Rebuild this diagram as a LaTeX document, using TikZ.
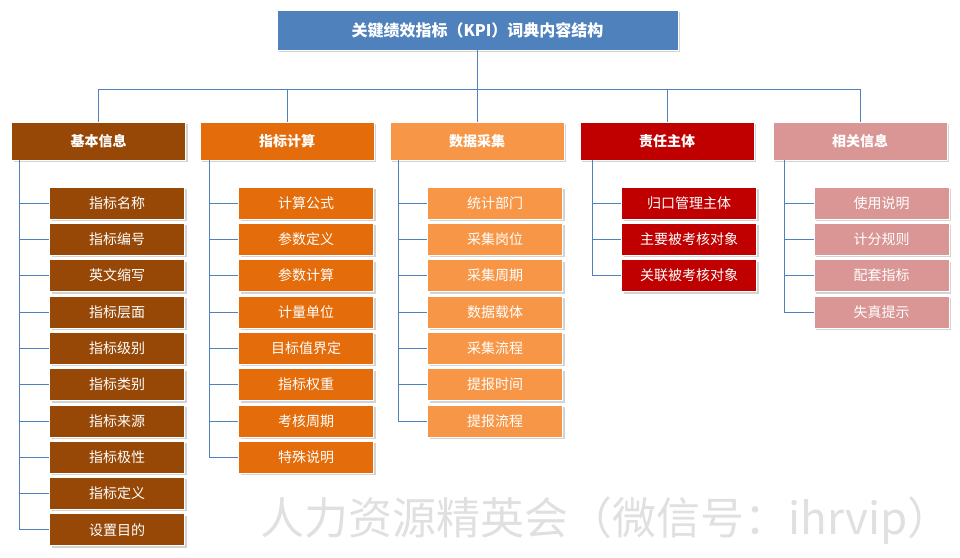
\documentclass[tikz,border=0pt]{standalone}
\usepackage{fontspec}
\setmainfont{Noto Sans CJK SC}
\usetikzlibrary{shadows}
\definecolor{cA}{HTML}{974806}
\definecolor{cB}{HTML}{E46C0A}
\definecolor{cC}{HTML}{F79646}
\definecolor{cD}{HTML}{C00000}
\definecolor{cE}{HTML}{D99694}
\definecolor{ttl}{HTML}{4F81BD}
\definecolor{ln}{HTML}{4F81BD}
\tikzset{
  box/.style={draw=white,line width=0.6pt,inner sep=0pt,text=white,drop shadow={shadow xshift=2pt,shadow yshift=-2pt,opacity=0.35}},
  cat/.style={box,minimum width=174pt,minimum height=38pt,font=\bfseries\fontsize{14}{16}\selectfont},
  item/.style={box,minimum width=135pt,minimum height=32pt,font=\fontsize{14}{16}\selectfont},
  conn/.style={draw=ln,line width=0.6pt}
}
\begin{document}
\begin{tikzpicture}[x=1pt,y=-1pt]
\useasboundingbox (0,0) rectangle (960,557);
\node[box,fill=ttl,minimum width=401pt,minimum height=40pt,font=\bfseries\fontsize{16}{18}\selectfont] (title) at (477.5,30) {关键绩效指标（KPI）词典内容结构};
\node[text=black!12,font=\fontsize{44}{46}\selectfont,anchor=east,inner sep=0pt] (wm) at (952,521) {人力资源精英会（微信号：ihrvip）};
\coordinate (hub) at (477.5,89);
\foreach \cx/\col/\name/\tx [count=\c] in {98.5/cA/基本信息/19,287/cB/指标计算/209,477/cC/数据采集/398,667/cD/责任主体/592,860/cE/相关信息/784}{
  \node[cat,fill=\col] (cat\c) at (\cx,141) {\name};
  \draw[conn] (title.south) -- (hub);
  \draw[conn] (hub) -| (cat\c.north);
  \coordinate (trunk\c) at (\tx,160);
}
\foreach \t [count=\i] in {指标名称,指标编号,英文缩写,指标层面,指标级别,指标类别,指标来源,指标极性,指标定义,设置目的}{
  \node[item,fill=cA] (a\i) at (117,{203+(\i-1)*36.3}) {\t};
  \draw[conn] (trunk1) |- (a\i.west);
}
\foreach \t [count=\i] in {计算公式,参数定义,参数计算,计量单位,目标值界定,指标权重,考核周期,特殊说明}{
  \node[item,fill=cB] (b\i) at (306,{203+(\i-1)*36.3}) {\t};
  \draw[conn] (trunk2) |- (b\i.west);
}
\foreach \t [count=\i] in {统计部门,采集岗位,采集周期,数据载体,采集流程,提报时间,提报流程}{
  \node[item,fill=cC] (c\i) at (495,{203+(\i-1)*36.3}) {\t};
  \draw[conn] (trunk3) |- (c\i.west);
}
\foreach \t [count=\i] in {归口管理主体,主要被考核对象,关联被考核对象}{
  \node[item,fill=cD] (d\i) at (689,{203+(\i-1)*36.3}) {\t};
  \draw[conn] (trunk4) |- (d\i.west);
}
\foreach \t [count=\i] in {使用说明,计分规则,配套指标,失真提示}{
  \node[item,fill=cE] (e\i) at (881.5,{203+(\i-1)*36.3}) {\t};
  \draw[conn] (trunk5) |- (e\i.west);
}
\end{tikzpicture}
\end{document}
